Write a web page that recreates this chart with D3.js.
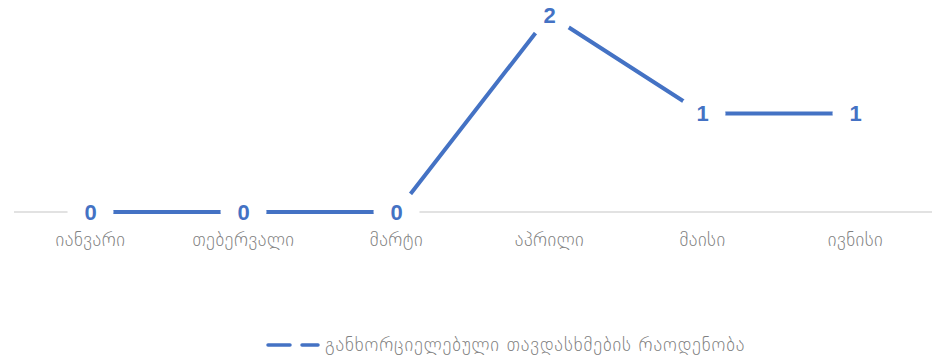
<!DOCTYPE html>
<html>
<head>
<meta charset="utf-8">
<script src="https://cdn.jsdelivr.net/npm/d3@7"></script>
<style>
  body { margin: 0; background: #fff; }
  svg { display: block; }
  .tick-label { font-family: "DejaVu Sans", sans-serif; font-size: 18.5px; font-weight: 200; letter-spacing: 0.5px; fill: #808080; }
  .value-label { font-family: "Liberation Sans", Arial, sans-serif; font-size: 22px; font-weight: bold; fill: #4472C4; }
  .legend-text { font-family: "DejaVu Sans", sans-serif; font-size: 18.5px; font-weight: 200; letter-spacing: 0.9px; fill: #808080; }
</style>
</head>
<body>
<svg id="chart" width="935" height="358"></svg>
<script>
// month names along the x axis
var months = ['იანვარი', 'თებერვალი', 'მარტი', 'აპრილი', 'მაისი', 'ივნისი'];
// number of attacks per month
var attacks = [0, 0, 0, 2, 1, 1];
var seriesName = 'განხორციელებული თავდასხმების რაოდენობა';

var svg = d3.select('#chart');
var blue = '#4472C4';

var x = d3.scaleBand()
          .domain(months)
          .range([14, 932]);

var y = d3.scaleLinear()
          .domain([0, 2])
          .range([212, 15]);

var cx = d => x(d) + x.bandwidth() / 2;

// category axis line
svg.append('line')
   .attr('x1', 14)
   .attr('x2', 932)
   .attr('y1', y(0))
   .attr('y2', y(0))
   .attr('stroke', '#d9d9d9')
   .attr('stroke-width', 1.5);

var points = months.map((m, i) => [cx(m), y(attacks[i])]);

var line = d3.line();

svg.append('path')
   .attr('d', line(points))
   .attr('fill', 'none')
   .attr('stroke', blue)
   .attr('stroke-width', 4);

// white patches behind the data labels cut the line
svg.selectAll('.label-bg')
   .data(points)
   .enter()
   .append('circle')
     .classed('label-bg', true)
     .attr('cx', d => d[0])
     .attr('cy', d => d[1])
     .attr('r', 23)
     .attr('fill', '#fff');

svg.selectAll('.value-label')
   .data(attacks)
   .enter()
   .append('text')
     .classed('value-label', true)
     .attr('text-anchor', 'middle')
     .attr('dominant-baseline', 'central')
     .attr('x', (d, i) => cx(months[i]))
     .attr('y', d => y(d))
     .text(d => d);

svg.selectAll('.tick-label')
   .data(months)
   .enter()
   .append('text')
     .classed('tick-label', true)
     .attr('text-anchor', 'middle')
     .attr('x', d => cx(d))
     .attr('y', 246)
     .text(d => d);

// legend
var legend = svg.append('g');

legend.selectAll('line')
  .data([[268, 290], [302, 318]])
  .enter()
  .append('line')
    .attr('x1', d => d[0])
    .attr('x2', d => d[1])
    .attr('y1', 345)
    .attr('y2', 345)
    .attr('stroke', blue)
    .attr('stroke-width', 3.5)
    .attr('stroke-linecap', 'round');

legend.append('text')
  .classed('legend-text', true)
  .attr('x', 325)
  .attr('y', 351)
  .text(seriesName);
</script>
</body>
</html>
